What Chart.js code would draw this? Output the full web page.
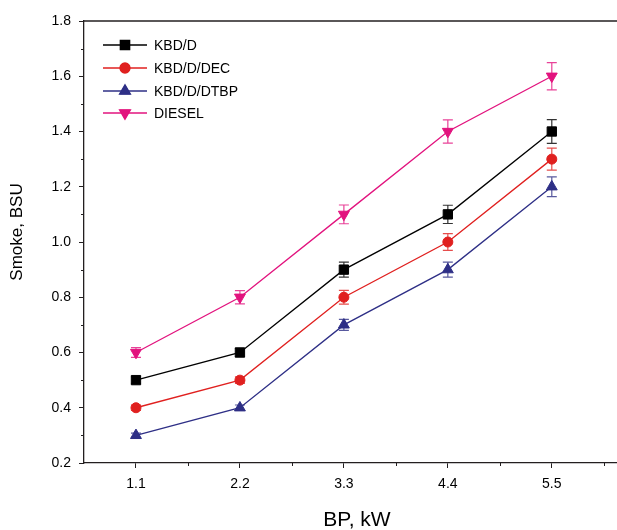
<!DOCTYPE html>
<html>
<head>
<meta charset="utf-8">
<script src="https://cdn.jsdelivr.net/npm/chart.js@4.4.1/dist/chart.umd.min.js"></script>
<style>
  html, body { margin: 0; padding: 0; background: #fff; overflow: hidden; }
  #wrap { width: 617px; height: 530px; position: relative; }
  #smoke-chart { display: block; }
</style>
</head>
<body>
<div id="wrap"><canvas id="smoke-chart"></canvas></div>
<script>
// Smoke vs brake power
const bpValues = [1.1, 2.2, 3.3, 4.4, 5.5];
const yTicks = [0.2, 0.4, 0.6, 0.8, 1.0, 1.2, 1.4, 1.6, 1.8];

const seriesNames = ['KBD/D', 'KBD/D/DEC', 'KBD/D/DTBP', 'DIESEL'];
const kbdD = [0.5, 0.6, 0.9, 1.1, 1.4];
const kbdDDec = [0.4, 0.5, 0.8, 1.0, 1.3];
const kbdDDtbp = [0.3, 0.4, 0.7, 0.9, 1.2];
const diesel = [0.6, 0.8, 1.1, 1.4, 1.6];

const kbdDErr = [0.012, 0.015, 0.027, 0.033, 0.043];
const kbdDDecErr = [0.010, 0.012, 0.025, 0.030, 0.040];
const kbdDDtbpErr = [0.008, 0.010, 0.020, 0.027, 0.036];
const dieselErr = [0.018, 0.024, 0.034, 0.042, 0.049];

const FONT = "'Liberation Sans', Arial, sans-serif";
const AXIS = '#231f20';

function toPoints(vals) {
    return vals.map((v, i) => ({ x: bpValues[i], y: v }));
}

function makeSet(label, vals, errs, color, style, radius, rotation) {
    return {
        label: label,
        data: toPoints(vals),
        errors: errs,
        borderColor: color,
        backgroundColor: color,
        pointBackgroundColor: color,
        pointBorderColor: color,
        borderWidth: 1.3,
        pointStyle: style,
        pointRadius: radius,
        pointHoverRadius: radius,
        pointRotation: rotation || 0,
        pointBorderWidth: 1,
        tension: 0,
        clip: false
    };
}

const datasets = [
    makeSet(seriesNames[0], kbdD, kbdDErr, '#000000', 'rect', 6.6),
    makeSet(seriesNames[1], kbdDDec, kbdDDecErr, '#e0201f', 'circle', 5),
    makeSet(seriesNames[2], kbdDDtbp, kbdDDtbpErr, '#2e2f86', 'triangle', 6.3),
    makeSet(seriesNames[3], diesel, dieselErr, '#e2137e', 'triangle', 6.3, 180)
];

// error bars, drawn under the markers
const errorBars = {
    id: 'errorBars',
    beforeDatasetsDraw(chart) {
        const ctx = chart.ctx;
        const xs = chart.scales.x, ys = chart.scales.y;
        ctx.save();
        chart.data.datasets.forEach(ds => {
            ctx.strokeStyle = ds.borderColor;
            ctx.globalAlpha = 0.8;
            ctx.lineWidth = 1.2;
            ds.data.forEach((p, i) => {
                const e = ds.errors[i];
                const px = xs.getPixelForValue(p.x);
                const top = ys.getPixelForValue(p.y + e);
                const bot = ys.getPixelForValue(p.y - e);
                ctx.beginPath();
                ctx.moveTo(px, top); ctx.lineTo(px, bot);
                ctx.moveTo(px - 5, top); ctx.lineTo(px + 5, top);
                ctx.moveTo(px - 5, bot); ctx.lineTo(px + 5, bot);
                ctx.stroke();
            });
        });
        ctx.restore();
    }
};

// minor ticks, top border, axis titles, legend
const frame = {
    id: 'frame',
    afterDraw(chart) {
        const ctx = chart.ctx;
        const area = chart.chartArea;
        const xs = chart.scales.x, ys = chart.scales.y;
        ctx.save();
        ctx.strokeStyle = AXIS;
        ctx.lineWidth = 1.3;
        ctx.beginPath();
        ctx.moveTo(area.left, area.top);
        ctx.lineTo(area.right, area.top);
        ctx.stroke();

        ctx.lineWidth = 1;
        ctx.beginPath();
        for (let i = 0; i < bpValues.length; i++) {
            const mid = bpValues[i] + 0.55;
            const px = Math.round(xs.getPixelForValue(mid)) + 0.5;
            if (px > area.right) continue;
            ctx.moveTo(px, area.bottom);
            ctx.lineTo(px, area.bottom + 3);
        }
        for (let i = 0; i < yTicks.length - 1; i++) {
            const py = Math.round(ys.getPixelForValue(yTicks[i] + 0.1)) + 0.5;
            ctx.moveTo(area.left, py);
            ctx.lineTo(area.left - 3, py);
        }
        ctx.stroke();

        ctx.fillStyle = '#000';
        ctx.textAlign = 'center';

        // x axis title
        ctx.font = '21px ' + FONT;
        ctx.textBaseline = 'alphabetic';
        ctx.fillText('BP, kW', 357, 526);

        // y axis title
        ctx.font = '17px ' + FONT;
        ctx.textBaseline = 'middle';
        ctx.translate(17, 232);
        ctx.rotate(-Math.PI / 2);
        ctx.fillText('Smoke, BSU', 0, 0);
        ctx.setTransform(1, 0, 0, 1, 0, 0);

        // legend: line with marker in the middle
        const rowY = [45, 68, 91, 113];
        chart.data.datasets.forEach((ds, i) => {
            const y = rowY[i];
            ctx.strokeStyle = ds.borderColor;
            ctx.lineWidth = 1.3;
            ctx.beginPath();
            ctx.moveTo(103, y);
            ctx.lineTo(147, y);
            ctx.stroke();
            ctx.fillStyle = ds.backgroundColor;
            Chart.helpers.drawPoint(ctx, {
                pointStyle: ds.pointStyle,
                radius: ds.pointRadius,
                rotation: ds.pointRotation,
                borderWidth: 1
            }, 125, y);
            ctx.fill();
            ctx.fillStyle = '#000';
            ctx.font = '14px ' + FONT;
            ctx.textAlign = 'left';
            ctx.textBaseline = 'middle';
            ctx.fillText(ds.label, 154, y + 1);
        });
        ctx.restore();
    }
};

new Chart(document.getElementById('smoke-chart'), {
    type: 'line',
    data: { datasets: datasets },
    options: {
        responsive: true,
        maintainAspectRatio: false,
        animation: false,
        layout: { autoPadding: false, padding: { top: 21, right: 0, bottom: 0, left: 0 } },
        plugins: {
            legend: { display: false },
            tooltip: { enabled: false }
        },
        scales: {
            x: {
                type: 'linear',
                min: 0.55,
                max: 6.19,
                afterBuildTicks(scale) {
                    scale.ticks = bpValues.map(v => ({ value: v }));
                },
                afterFit(scale) { scale.height = 67; },
                border: { display: true, color: AXIS, width: 1.3 },
                grid: { drawOnChartArea: false, drawTicks: true, tickLength: 5, color: AXIS },
                ticks: {
                    color: '#000',
                    padding: 8,
                    maxRotation: 0,
                    font: { family: FONT, size: 14 },
                    callback: v => v.toFixed(1)
                }
            },
            y: {
                min: 0.2,
                max: 1.8,
                afterBuildTicks(scale) {
                    scale.ticks = yTicks.map(v => ({ value: v }));
                },
                afterFit(scale) { scale.width = 84; },
                border: { display: true, color: AXIS, width: 1.3 },
                grid: { drawOnChartArea: false, drawTicks: true, tickLength: 5, color: AXIS },
                ticks: {
                    color: '#000',
                    padding: 8,
                    font: { family: FONT, size: 14 },
                    callback: v => v.toFixed(1)
                }
            }
        }
    },
    plugins: [errorBars, frame]
});
</script>
</body>
</html>
